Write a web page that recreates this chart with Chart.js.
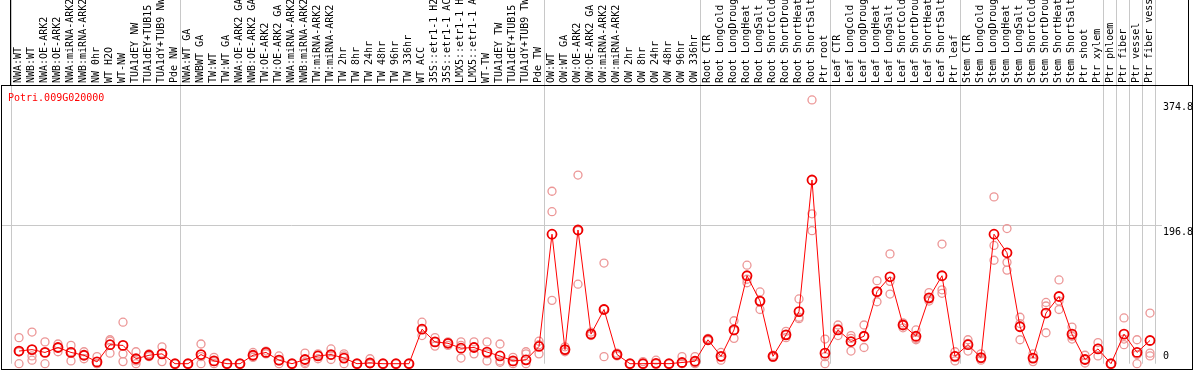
<!DOCTYPE html>
<html>
<head>
<meta charset="utf-8">
<script src="https://cdn.jsdelivr.net/npm/chart.js@4/dist/chart.umd.min.js"></script>
<style>
  body { margin: 0; background: #fff; }
</style>
</head>
<body>
<canvas id="chart" width="1194" height="370"></canvas>
<script>
const geneId = "Potri.009G020000";

const labels = [
  "NWA:WT", "NWB:WT", "NWA:OE-ARK2", "NWB:OE-ARK2", "NWA:miRNA-ARK2", "NWB:miRNA-ARK2",
  "NW 0hr", "WT H2O", "WT-NW", "TUA1dEY NW", "TUA1dEY+TUB15", "TUA1dY+TUB9 NW", "Pde NW",
  "NWA:WT GA", "NWBWT GA", "TW:WT", "TW:WT GA", "NWA:OE-ARK2 GA", "NWB:OE-ARK2 GA",
  "TW:OE-ARK2", "TW:OE-ARK2 GA", "NWA:miRNA-ARK2", "NWB:miRNA-ARK2", "TW:miRNA-ARK2",
  "TW:miRNA-ARK2 GA", "TW 2hr", "TW 8hr", "TW 24hr", "TW 48hr", "TW 96hr", "TW 336hr",
  "WT ACC", "35S::etr1-1 H2O", "35S::etr1-1 ACC", "LMX5::etr1-1 H2O", "LMX5::etr1-1 ACC",
  "WT-TW", "TUA1dEY TW", "TUA1dEY+TUB15", "TUA1dY+TUB9 TW", "Pde TW",
  "OW:WT", "OW:WT GA", "OW:OE-ARK2", "OW:OE-ARK2 GA", "OW:miRNA-ARK2", "OW:miRNA-ARK2 GA",
  "OW 2hr", "OW 8hr", "OW 24hr", "OW 48hr", "OW 96hr", "OW 336hr",
  "Root CTR", "Root LongCold", "Root LongDrought", "Root LongHeat", "Root LongSalt",
  "Root ShortCold", "Root ShortDrought", "Root ShortHeat", "Root ShortSalt", "Ptr root",
  "Leaf CTR", "Leaf LongCold", "Leaf LongDrought", "Leaf LongHeat", "Leaf LongSalt",
  "Leaf ShortCold", "Leaf ShortDrought", "Leaf ShortHeat", "Leaf ShortSalt", "Ptr leaf",
  "Stem CTR", "Stem LongCold", "Stem LongDrought", "Stem LongHeat", "Stem LongSalt",
  "Stem ShortCold", "Stem ShortDrought", "Stem ShortHeat", "Stem ShortSalt", "Ptr shoot",
  "Ptr xylem", "Ptr phloem", "Ptr fiber", "Ptr vessel", "Ptr fiber vessel"
];

// mean expression per sample
const means = [
  18, 20, 16, 23, 16, 12, 2.5, 27, 26, 7, 12, 14, 0,
  0, 13, 4, 0, 0, 12, 16, 5, 0, 6, 11, 13, 8, 0, 1, 0, 0, 0,
  49, 31, 29, 22, 23, 16.5, 11, 4, 5.5, 24.5,
  184, 20, 190, 42, 77, 13, 0, 0, 0.5, 0, 1.7, 3.5,
  34, 10.5, 48, 125, 89, 10.5, 41, 74, 261, 15,
  48, 31.5, 39, 102.5, 123.5, 55, 39, 93.6, 125, 10.5,
  27, 8.7, 184, 157.6, 52.5, 8, 72, 95.5, 42, 6, 21,
  0, 42, 16, 33
];

// replicate values
const repA = [
  37, 45, 31, 28, 26, 17, 10, 34, 59, 17, 14, 24, 0,
  0, 28, 9, 0, 0, 16, 18, 11, 0, 15, 14, 21, 14, 0, 7, 0, 0, 0,
  59, 37, 31, 31, 31, 31, 28, 9, 17, 32,
  245, 24, 268, 45, 143, 15, 0, 3, 5, 0, 10, 10,
  36, 16, 61, 140, 102, 12, 46, 92, 374.8, 35,
  55, 40, 55, 118, 156, 58, 48, 101, 170, 17,
  34, 14, 237, 192, 66, 14, 87, 119, 52, 12, 30,
  0, 65, 34, 72
];
const repB = [
  17, 11, 16, 23, 17, 12, 0, 32, 14, 4, 12, 15, 0,
  0, 10, 3, 0, 0, 11, 15, 4, 0, 2, 12, 12, 11, 0, 0, 0, 0, 0,
  49, 31, 29, 26, 24, 14, 4, 3, 14, 27,
  216, 20, 189, 42, 78, 13, 0, 0, 0, 0, 0, 1,
  34, 10, 47, 120, 89, 10, 41, 66, 213, 10,
  50, 36, 39, 102, 117, 55, 36, 92, 105, 11,
  29, 7, 168, 144, 57, 8, 82, 89, 39, 6, 22,
  0, 35, 13, 15
];
const repC = [
  0, 5, 0, 17, 4, 7, 0, 15, 3, 0, 10, 3, 0,
  0, 0, 0, 0, 0, 9, 14, 0, 0, 0, 7, 6, 0, 0, 0, 0, 0, 0,
  40, 25, 26, 8, 14, 4, 2, 0, 0, 14,
  90, 17, 113, 40, 10, 11, 0, 0, 0, 0, 0, 0,
  33, 5, 36, 115, 77, 9, 37, 64, 189, 0,
  40, 18, 23, 88, 99, 51, 34, 89, 100, 4,
  18, 5, 147, 133, 34, 3, 44, 77, 35, 1, 11,
  0, 27, 0, 11
];

const yTicks = [0, 196.8, 374.8];
const groupStarts = [0, 13, 41, 53, 63, 73, 84, 85, 86, 87, 88];

const MONO = "'DejaVu Sans Mono', monospace";
const GRID = "#c8c8c8";

const decorPlugin = {
  id: "decor",
  beforeDatasetsDraw(chart) {
    const ctx = chart.ctx;
    const x = chart.scales.x;
    const y = chart.scales.y;
    const area = chart.chartArea;
    ctx.save();
    ctx.strokeStyle = GRID;
    ctx.lineWidth = 1;
    groupStarts.forEach((s) => {
      const px = Math.round(x.getPixelForValue(s) - 8) + 0.5;
      ctx.beginPath();
      ctx.moveTo(px, 0);
      ctx.lineTo(px, area.bottom);
      ctx.stroke();
    });
    const gy = Math.round(y.getPixelForValue(196.8)) + 0.5;
    ctx.beginPath();
    ctx.moveTo(1, gy);
    ctx.lineTo(1162, gy);
    ctx.stroke();
    ctx.restore();
  },
  afterDraw(chart) {
    const ctx = chart.ctx;
    const y = chart.scales.y;
    const area = chart.chartArea;
    ctx.save();
    ctx.strokeStyle = "#000";
    ctx.lineWidth = 1;
    ctx.strokeRect(1.5, 85.5, 1191, 284);
    ctx.beginPath();
    ctx.moveTo(10.5, 0);
    ctx.lineTo(10.5, 85);
    ctx.moveTo(1188.5, 0);
    ctx.lineTo(1188.5, 85);
    ctx.stroke();

    ctx.font = "10px " + MONO;
    ctx.textAlign = "left";
    ctx.textBaseline = "top";
    ctx.fillStyle = "#000";
    yTicks.forEach((v) => {
      const py = Math.min(y.getPixelForValue(v) + 2, area.bottom - 12);
      ctx.fillText(String(v), 1163, py);
    });

    ctx.fillStyle = "#ff0000";
    ctx.fillText(geneId, 8, 93);
    ctx.restore();
  },
};

const repStyle = {
  showLine: false,
  pointRadius: 4,
  pointBorderWidth: 1.3,
  pointBorderColor: "rgb(236,150,150)",
  pointBackgroundColor: "rgba(0,0,0,0)",
  order: 1,
  clip: false,
};

new Chart(document.getElementById("chart"), {
  type: "line",
  data: {
    labels: labels,
    datasets: [
      {
        label: geneId,
        data: means,
        borderColor: "#ff0000",
        borderWidth: 1,
        tension: 0,
        pointRadius: 4.5,
        pointBorderWidth: 1.8,
        pointBorderColor: "#ee0000",
        pointBackgroundColor: "rgba(0,0,0,0)",
        order: 0,
        clip: false,
      },
      { ...repStyle, label: "rep 1", data: repA },
      { ...repStyle, label: "rep 2", data: repB },
      { ...repStyle, label: "rep 3", data: repC },
    ],
  },
  options: {
    responsive: false,
    animation: false,
    devicePixelRatio: 1,
    layout: {
      padding: { left: 12.5, right: 0, top: 0, bottom: 1 },
    },
    plugins: {
      legend: { display: false },
      tooltip: { enabled: false },
    },
    scales: {
      x: {
        type: "category",
        position: "top",
        offset: true,
        grid: { display: false, drawTicks: false },
        border: { display: false },
        ticks: {
          autoSkip: false,
          minRotation: 90,
          maxRotation: 90,
          padding: 2,
          labelOffset: 11,
          color: "#000",
          font: { family: MONO, size: 10 },
        },
        afterFit: (scale) => {
          scale.height = 85;
          scale.paddingLeft = 0;
          scale.paddingRight = 0;
        },
      },
      y: {
        position: "right",
        min: 0,
        max: 396,
        grid: { display: false },
        border: { display: false },
        ticks: { display: false },
        afterBuildTicks: (scale) => {
          scale.ticks = yTicks.map((v) => ({ value: v }));
        },
        afterFit: (scale) => {
          scale.width = 37.5;
          scale.paddingTop = 0;
          scale.paddingBottom = 0;
        },
      },
    },
  },
  plugins: [decorPlugin],
});
</script>
</body>
</html>
